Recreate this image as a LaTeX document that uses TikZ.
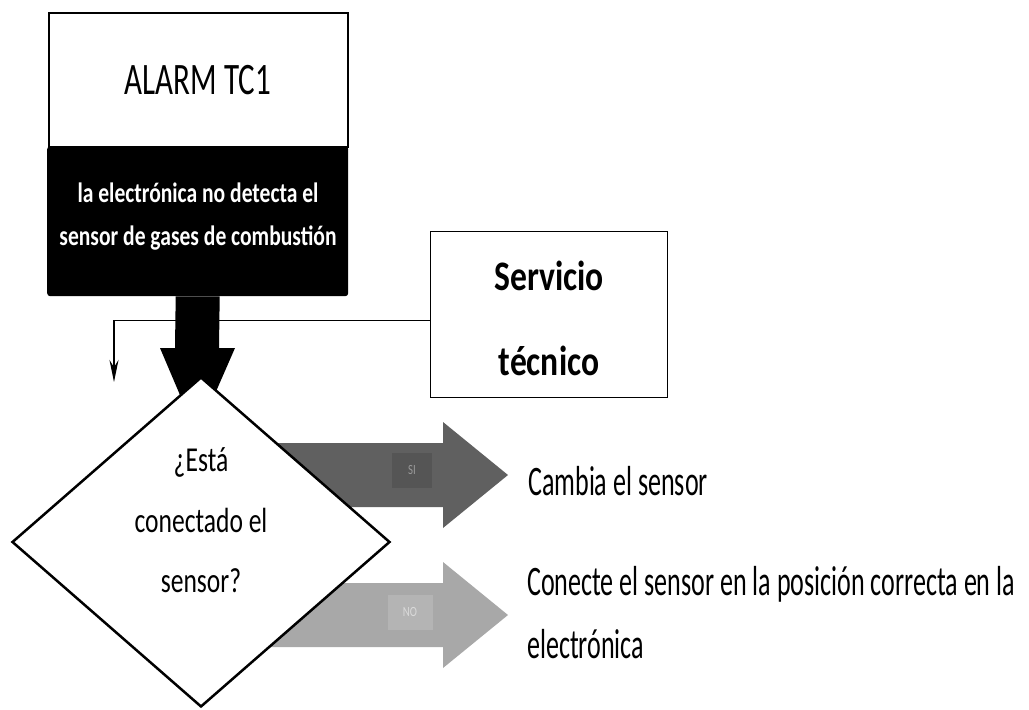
\documentclass[tikz,border=0pt]{standalone}
\usepackage{fontspec}
\setmainfont{Carlito}
\newfontfamily\cf[FakeStretch=0.77]{Carlito}
\newfontfamily\cfa[FakeStretch=0.69]{Carlito}
\newfontfamily\cfb[FakeStretch=0.8]{Carlito}
\newfontfamily\cfd[FakeStretch=0.73]{Carlito}
\newfontfamily\cfr[FakeStretch=0.62]{Carlito}
\usetikzlibrary{arrows.meta,shapes.geometric}
\definecolor{siCol}{HTML}{606060}
\definecolor{siBox}{HTML}{555555}
\definecolor{siTxt}{HTML}{9A9A9A}
\definecolor{noCol}{HTML}{A8A8A8}
\definecolor{noBox}{HTML}{B4B4B4}
\definecolor{noTxt}{HTML}{DADADA}
\begin{document}
\begin{tikzpicture}[x=1pt,y=-1pt,
  txt/.style={inner sep=0pt, anchor=base},
  rtxt/.style={inner sep=0pt, anchor=base west, font=\cfr\fontsize{42}{48}\selectfont},
  dtxt/.style={inner sep=0pt, anchor=base, font=\cfd\fontsize{35}{40}\selectfont},
  wtxt/.style={inner sep=0pt, anchor=base, text=white, font=\cf\bfseries\fontsize{28}{32}\selectfont},
  stxt/.style={inner sep=0pt, anchor=base, font=\cfb\bfseries\fontsize{42}{48}\selectfont},
  lbl/.style={inner sep=0pt, minimum width=40pt, minimum height=35pt, font=\cf\fontsize{14}{16}\selectfont}
]
\useasboundingbox (0,0) rectangle (1029,710);

% thin connector from Servicio técnico
\node[draw, line width=1.3pt, minimum width=237pt, minimum height=166pt, inner sep=0pt, anchor=north west] (serv) at (430,231) {};
\coordinate (tipL) at (114,382);
\draw[line width=1.5pt, -{Stealth[length=22pt,width=9pt]}] ([yshift=-6pt]serv.west) -| (tipL);

% top box
\node[fill=black, rounded corners=3pt, minimum width=301pt, minimum height=150pt, inner sep=0pt, anchor=north west] (body) at (47,146) {};
\node[draw, fill=white, line width=2pt, minimum width=299pt, minimum height=134pt, inner sep=0pt, anchor=north west] (hdr) at (48,12) {};
\node[txt, font=\cfa\fontsize{45}{50}\selectfont] (alarm) at (198,94) {ALARM TC1};
\node[wtxt] (b1) at (198,202) {la electrónica no detecta el};
\node[wtxt] (b2) at (198,245) {sensor de gases de combustión};

% big black arrow
\fill[black] ([xshift=-22pt]body.south) -- ([xshift=22pt]body.south) -- (219,348) -- (235,348) -- (197,435) -- (160,348) -- (175,348) -- cycle;

% SI / NO arrows
\fill[siCol] (250,443) -- (443,443) -- (443,422) -- (508,475) -- (443,528) -- (443,507) -- (250,507) -- cycle;
\fill[noCol] (250,583) -- (443,583) -- (443,562) -- (508,615) -- (443,668) -- (443,647) -- (250,647) -- cycle;

% decision diamond
\node[diamond, draw, line width=2.5pt, fill=white, minimum width=378pt, minimum height=330pt, inner sep=0pt] (dec) at (201,542) {};
\node[dtxt] (d1) at (201,471) {¿Está};
\node[dtxt] (d2) at (201,532) {conectado el};
\node[dtxt] (d3) at (201,592) {sensor?};

% labels
\node[lbl, fill=siBox, text=siTxt] (si) at (412,470) {SI};
\node[lbl, fill=noBox, text=noTxt, minimum width=45pt] (no) at (410,612) {NO};

% Servicio text
\node[stxt] (s1) at (549,290) {Servicio};
\node[stxt] (s2) at (549,375) {técnico};

% outcomes
\node[rtxt] (r1) at (528,495) {Cambia el sensor};
\node[rtxt] (r2) at (527,595) {Conecte el sensor en la posición correcta en la};
\node[rtxt] (r3) at (527,658) {electrónica};
\end{tikzpicture}
\end{document}
